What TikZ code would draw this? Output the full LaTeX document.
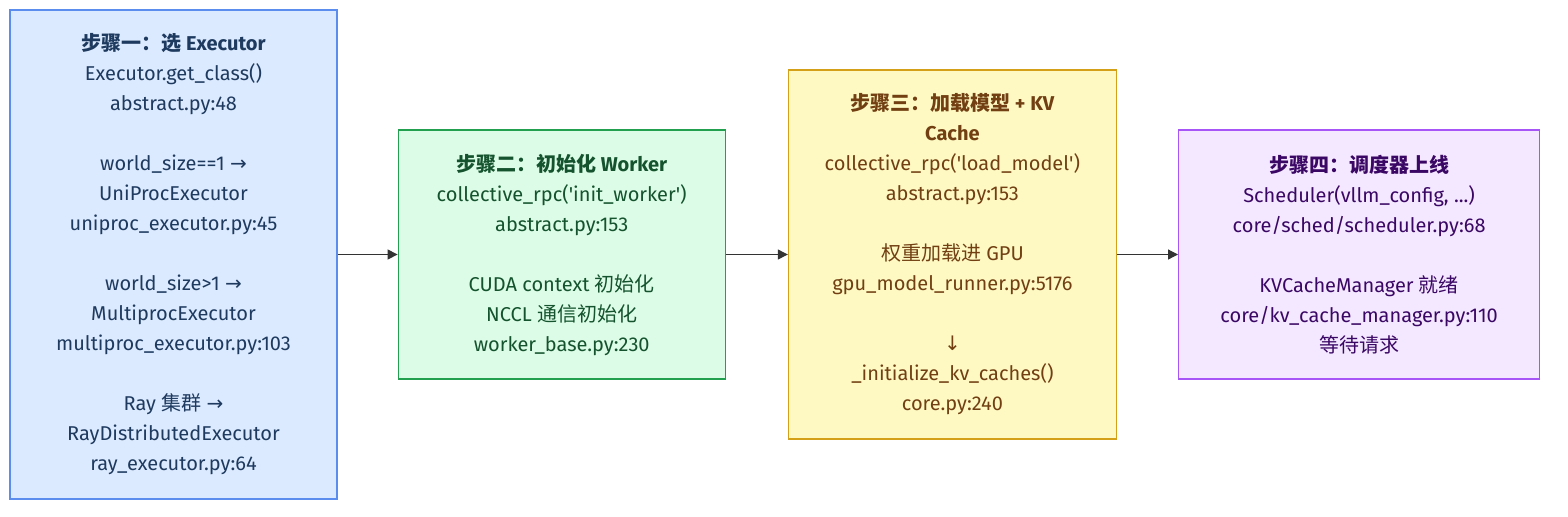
\documentclass[tikz,border=0pt]{standalone}
\usepackage{fontspec}
\setmainfont{Fira Sans}
\newfontfamily\cjk{Noto Sans CJK SC}
\newfontfamily\sym{DejaVu Sans}
\usetikzlibrary{arrows.meta,positioning}

\definecolor{bluefill}{HTML}{DBEAFE}
\definecolor{blueline}{HTML}{5B8DEF}
\definecolor{bluetext}{HTML}{1E3A5F}
\definecolor{greenfill}{HTML}{DCFCE7}
\definecolor{greenline}{HTML}{22A050}
\definecolor{greentext}{HTML}{14532D}
\definecolor{yellowfill}{HTML}{FEF9C3}
\definecolor{yellowline}{HTML}{D4A017}
\definecolor{yellowtext}{HTML}{713F12}
\definecolor{purplefill}{HTML}{F3E8FF}
\definecolor{purpleline}{HTML}{A855F7}
\definecolor{purpletext}{HTML}{3B0764}
\definecolor{arrowgray}{HTML}{333333}

\newcommand{\ra}{{\sym →}}
\newcommand{\da}{{\sym ↓}}

\begin{document}
\begin{tikzpicture}[x=0.5pt,y=-0.5pt,
    stepbox/.style={draw, line width=0.6pt, align=center, inner sep=0pt,
        font=\fontsize{10}{15}\selectfont},
    link/.style={-{Triangle[length=5pt,width=5pt]}, draw=arrowgray, line width=0.6pt}]
    \useasboundingbox (0,0) rectangle (1568,516);

    % Step one
    \node[stepbox, fill=bluefill, draw=blueline, text=bluetext,
        minimum width=163.5pt, minimum height=244.5pt] (select) at (173.5,254.5)
        {\textbf{{\cjk 步骤一：选} Executor}\\
         Executor.get\_class()\\
         abstract.py:48\\[15pt]
         world\_size==1 \ra\\
         UniProcExecutor\\
         uniproc\_executor.py:45\\[15pt]
         world\_size>1 \ra\\
         MultiprocExecutor\\
         multiproc\_executor.py:103\\[15pt]
         Ray {\cjk 集群} \ra\\
         RayDistributedExecutor\\
         ray\_executor.py:64};

    % Step two
    \node[stepbox, fill=greenfill, draw=greenline, text=greentext,
        minimum width=163.5pt, minimum height=124.5pt, right=30pt of select] (worker)
        {\textbf{{\cjk 步骤二：初始化} Worker}\\
         collective\_rpc(\textquotesingle init\_worker\textquotesingle)\\
         abstract.py:153\\[15pt]
         CUDA context {\cjk 初始化}\\
         NCCL {\cjk 通信初始化}\\
         worker\_base.py:230};

    % Step three
    \node[stepbox, fill=yellowfill, draw=yellowline, text=yellowtext,
        minimum width=164pt, minimum height=184.5pt, right=31pt of worker] (load)
        {\textbf{{\cjk 步骤三：加载模型} + KV}\\
         \textbf{Cache}\\
         collective\_rpc(\textquotesingle load\_model\textquotesingle)\\
         abstract.py:153\\[15pt]
         {\cjk 权重加载进} GPU\\
         gpu\_model\_runner.py:5176\\[15pt]
         \da\\
         \_initialize\_kv\_caches()\\
         core.py:240};

    % Step four
    \node[stepbox, fill=purplefill, draw=purpleline, text=purpletext,
        minimum width=180.5pt, minimum height=124.5pt, right=30.5pt of load] (sched)
        {\textbf{\cjk 步骤四：调度器上线}\\
         Scheduler(vllm\_config, ...)\\
         core/sched/scheduler.py:68\\[15pt]
         KVCacheManager {\cjk 就绪}\\
         core/kv\_cache\_manager.py:110\\
         {\cjk 等待请求}};

    \draw[link] (select) -- (worker);
    \draw[link] (worker) -- (load);
    \draw[link] (load) -- (sched);
\end{tikzpicture}
\end{document}
